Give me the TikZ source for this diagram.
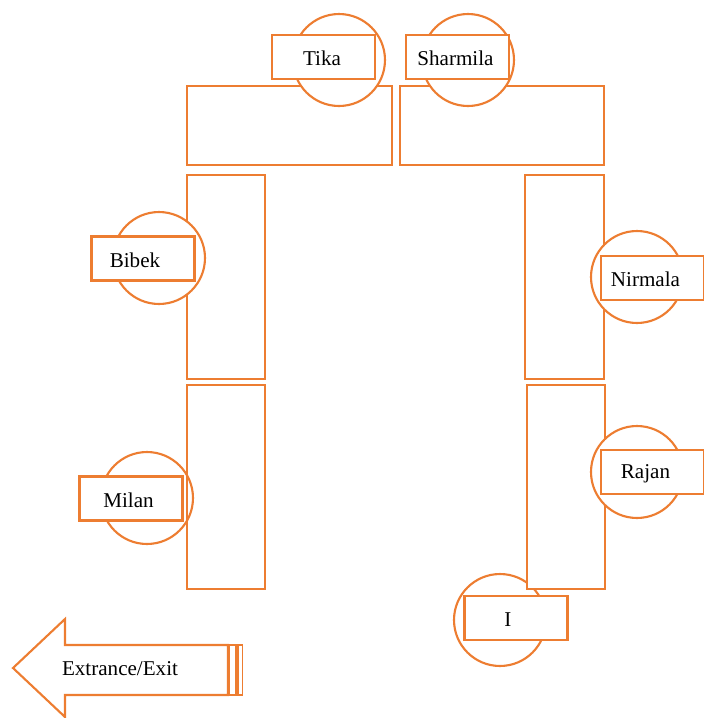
\documentclass[tikz,border=0pt]{standalone}
\usepackage{fontspec}
\setmainfont{Liberation Serif}
\usetikzlibrary{calc}
\definecolor{seatorange}{HTML}{ED7D31}
\tikzset{
  seat/.style={circle,draw=seatorange,fill=white,line width=1.2pt,minimum size=1.84cm,inner sep=0pt},
  namebox/.style={rectangle,draw=seatorange,fill=white,line width=1.4pt,minimum width=2.06cm,minimum height=0.88cm,inner sep=0pt},
  desk/.style={draw=seatorange,fill=white,line width=1.2pt},
}
\begin{document}
\begin{tikzpicture}[x=0.02cm,y=-0.02cm,font=\fontsize{12}{14}\selectfont,line join=miter]
			\useasboundingbox (0,0) rectangle (704,718);
			\path
			(339,60) coordinate (cTika)
			(468,60) coordinate (cSharmila)
			(159,258) coordinate (cBibek)
			(637,277) coordinate (cNirmala)
			(147,498) coordinate (cMilan)
			(637,472) coordinate (cRajan)
			(500,620) coordinate (cI);
			% seats that sit behind the desks
			\node[seat] (sMilan) at (cMilan) {};
			\node[seat] (sI) at (cI) {};
			% desks
			\draw[desk] (187,86) rectangle (392,165);
			\draw[desk] (400,86) rectangle (604,165);
			\draw[desk] (187,175) rectangle (265,379);
			\draw[desk,fill=none] (187,385) rectangle (265,589);
			\draw[desk] (525,175) rectangle (604,379);
			\draw[desk] (527,385) rectangle (605,589);
			% seats in front of the desks
			\foreach \s in {Tika,Sharmila,Bibek,Nirmala,Rajan} \node[seat] (s\s) at (c\s) {};
			% name cards, text set a bit to the left
			\foreach \n/\x/\y/\d in {Tika/323.5/57/-1.5, Sharmila/457.5/57/-2, Bibek/143/258.5/-8, Nirmala/652.5/278/-7, Milan/131/498.5/-2.5, Rajan/652.5/472/-7, I/516/618/-8}{
				\node[namebox] (n\n) at (\x,\y) {};
				\node (t\n) at ($(\x,\y)+(\d,1.5)$) {\n};
			}
			% door arrow
			\draw[seatorange,line width=1.2pt,fill=white] (13,668) -- (65,619) -- (65,645) -- (228,645) -- (228,695) -- (65,695) -- (65,717) -- cycle;
			\draw[seatorange,line width=0.9pt] (229.5,645) rectangle (236,695);
			\draw[seatorange,line width=0.9pt] (238,645) rectangle (242.5,695);
			\node (door) at (120,669) {Extrance/Exit};
		\end{tikzpicture}
\end{document}
